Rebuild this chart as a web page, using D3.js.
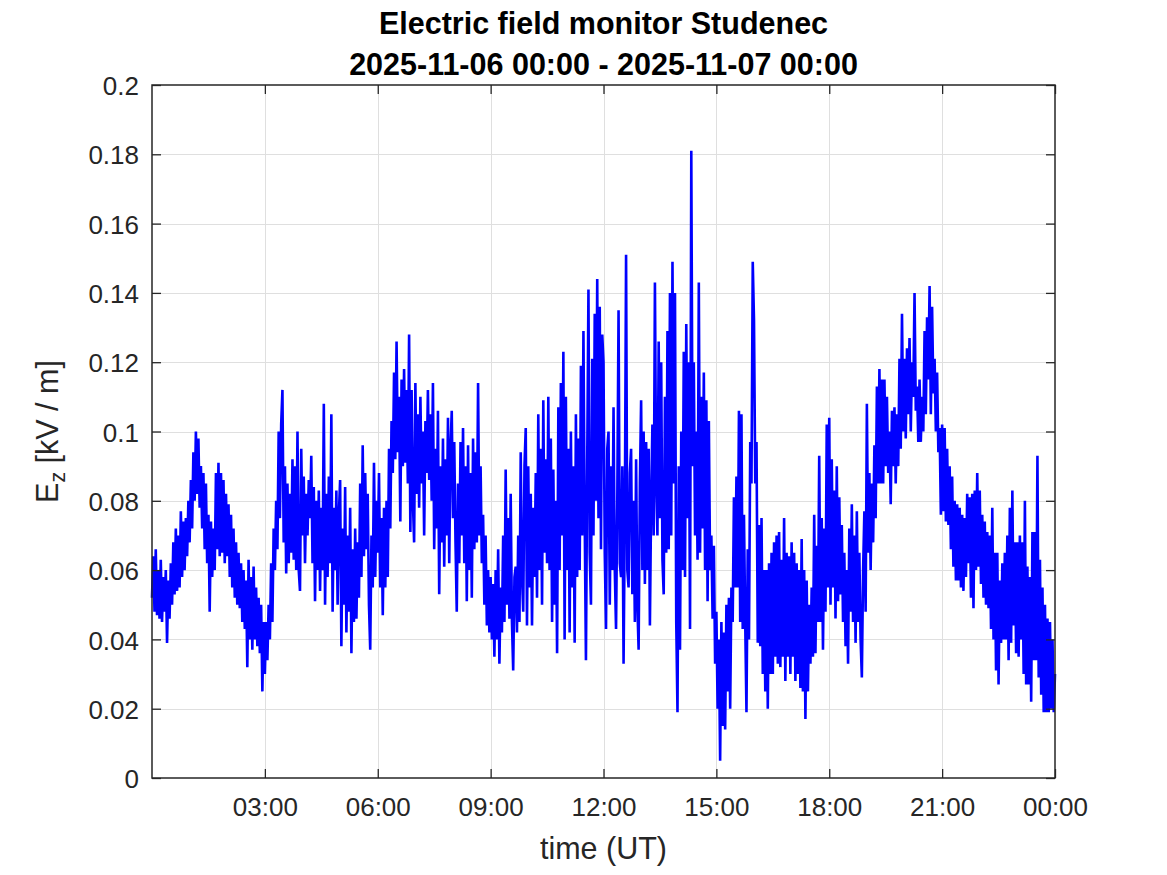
<!DOCTYPE html>
<html>
<head>
<meta charset="utf-8">
<script src="https://cdn.jsdelivr.net/npm/d3@7"></script>
<style>
  html, body { margin: 0; padding: 0; background: #fff; }
  svg { display: block; }
  text { font-family: "Liberation Sans", Arial, Helvetica, sans-serif; }
</style>
</head>
<body>
<svg id="chart" width="1167" height="875"></svg>
<script>
// ---------------- data (kV/m, one sample every 2 minutes, 30 per hour) ----------------
const titleLines = ["Electric field monitor Studenec", "2025-11-06 00:00 - 2025-11-07 00:00"];
const xLabel = "time (UT)";
const xTickLabels = ["03:00", "06:00", "09:00", "12:00", "15:00", "18:00", "21:00", "00:00"];
const yTickValues = [0, 0.02, 0.04, 0.06, 0.08, 0.1, 0.12, 0.14, 0.16, 0.18, 0.2];
const yTickLabels = ["0", "0.02", "0.04", "0.06", "0.08", "0.1", "0.12", "0.14", "0.16", "0.18", "0.2"];

const ez00_06 = [
  0.052, 0.064, 0.048, 0.066, 0.047, 0.060, 0.046, 0.063, 0.045, 0.058, 0.048, 0.060, 0.039, 0.057, 0.046, 0.062, 0.050, 0.068, 0.053, 0.072, 0.054, 0.070, 0.055, 0.077, 0.058, 0.074, 0.060, 0.075, 0.064, 0.080,
  0.068, 0.086, 0.072, 0.094, 0.080, 0.100, 0.082, 0.098, 0.078, 0.090, 0.072, 0.088, 0.066, 0.085, 0.062, 0.076, 0.048, 0.074, 0.058, 0.072, 0.060, 0.088, 0.066, 0.091, 0.064, 0.088, 0.065, 0.086, 0.062, 0.082,
  0.064, 0.079, 0.058, 0.076, 0.055, 0.072, 0.052, 0.068, 0.050, 0.065, 0.049, 0.062, 0.045, 0.060, 0.043, 0.057, 0.032, 0.063, 0.040, 0.058, 0.037, 0.061, 0.040, 0.055, 0.038, 0.052, 0.036, 0.050, 0.025, 0.045,
  0.030, 0.045, 0.034, 0.050, 0.040, 0.062, 0.045, 0.072, 0.060, 0.080, 0.066, 0.100, 0.075, 0.102, 0.112, 0.068, 0.090, 0.059, 0.085, 0.062, 0.082, 0.065, 0.092, 0.063, 0.090, 0.060, 0.100, 0.060, 0.054, 0.095,
  0.070, 0.087, 0.062, 0.082, 0.070, 0.086, 0.075, 0.093, 0.062, 0.084, 0.051, 0.080, 0.060, 0.083, 0.054, 0.078, 0.060, 0.108, 0.050, 0.082, 0.058, 0.087, 0.062, 0.105, 0.048, 0.078, 0.060, 0.083, 0.050, 0.076,
  0.086, 0.038, 0.072, 0.050, 0.084, 0.042, 0.070, 0.048, 0.078, 0.036, 0.066, 0.045, 0.072, 0.046, 0.068, 0.052, 0.085, 0.058, 0.096, 0.064, 0.088, 0.066, 0.082, 0.050, 0.037, 0.070, 0.055, 0.091, 0.058, 0.080
];
const ez06_12 = [
  0.065, 0.088, 0.055, 0.075, 0.047, 0.078, 0.055, 0.080, 0.058, 0.095, 0.072, 0.103, 0.088, 0.117, 0.092, 0.126, 0.094, 0.110, 0.074, 0.115, 0.090, 0.118, 0.091, 0.112, 0.085, 0.128, 0.071, 0.112, 0.080, 0.068,
  0.114, 0.082, 0.105, 0.078, 0.110, 0.085, 0.100, 0.070, 0.103, 0.088, 0.112, 0.086, 0.105, 0.080, 0.114, 0.066, 0.095, 0.072, 0.106, 0.053, 0.090, 0.068, 0.098, 0.061, 0.092, 0.070, 0.104, 0.062, 0.095, 0.106,
  0.075, 0.097, 0.068, 0.048, 0.085, 0.062, 0.097, 0.070, 0.101, 0.062, 0.090, 0.051, 0.096, 0.060, 0.088, 0.052, 0.098, 0.066, 0.094, 0.068, 0.114, 0.070, 0.090, 0.062, 0.076, 0.050, 0.070, 0.044, 0.060, 0.042,
  0.058, 0.040, 0.056, 0.035, 0.060, 0.040, 0.066, 0.033, 0.055, 0.042, 0.070, 0.045, 0.089, 0.050, 0.075, 0.046, 0.082, 0.045, 0.031, 0.058, 0.061, 0.042, 0.070, 0.045, 0.094, 0.058, 0.048, 0.090, 0.101, 0.044,
  0.090, 0.055, 0.082, 0.044, 0.078, 0.058, 0.088, 0.052, 0.105, 0.060, 0.095, 0.050, 0.109, 0.065, 0.092, 0.062, 0.110, 0.060, 0.098, 0.045, 0.089, 0.050, 0.080, 0.036, 0.107, 0.060, 0.114, 0.070, 0.123, 0.040,
  0.110, 0.060, 0.095, 0.042, 0.100, 0.055, 0.090, 0.039, 0.105, 0.058, 0.098, 0.060, 0.119, 0.070, 0.129, 0.075, 0.034, 0.090, 0.141, 0.065, 0.050, 0.121, 0.070, 0.134, 0.080, 0.144, 0.075, 0.136, 0.066, 0.128
];
const ez12_18 = [
  0.120, 0.065, 0.043, 0.095, 0.100, 0.050, 0.090, 0.060, 0.107, 0.060, 0.043, 0.080, 0.135, 0.062, 0.058, 0.090, 0.033, 0.075, 0.151, 0.060, 0.055, 0.088, 0.095, 0.053, 0.080, 0.045, 0.092, 0.050, 0.037, 0.085,
  0.109, 0.060, 0.100, 0.056, 0.097, 0.060, 0.095, 0.044, 0.080, 0.102, 0.070, 0.143, 0.085, 0.070, 0.126, 0.075, 0.120, 0.063, 0.053, 0.110, 0.065, 0.129, 0.066, 0.140, 0.070, 0.149, 0.085, 0.140, 0.045, 0.019,
  0.090, 0.037, 0.100, 0.060, 0.123, 0.058, 0.131, 0.075, 0.120, 0.043, 0.181, 0.090, 0.120, 0.070, 0.100, 0.063, 0.143, 0.065, 0.110, 0.072, 0.117, 0.060, 0.109, 0.051, 0.103, 0.060, 0.070, 0.046, 0.067, 0.033,
  0.048, 0.020, 0.040, 0.005, 0.045, 0.015, 0.042, 0.014, 0.050, 0.025, 0.052, 0.020, 0.055, 0.045, 0.081, 0.055, 0.087, 0.055, 0.106, 0.045, 0.105, 0.043, 0.076, 0.045, 0.019, 0.066, 0.040, 0.097, 0.085, 0.149,
  0.132, 0.085, 0.097, 0.039, 0.073, 0.038, 0.075, 0.030, 0.060, 0.025, 0.060, 0.020, 0.062, 0.030, 0.065, 0.030, 0.068, 0.035, 0.070, 0.033, 0.071, 0.032, 0.063, 0.035, 0.075, 0.028, 0.065, 0.035, 0.064, 0.030,
  0.068, 0.035, 0.065, 0.028, 0.062, 0.030, 0.060, 0.026, 0.069, 0.025, 0.060, 0.017, 0.057, 0.025, 0.050, 0.033, 0.055, 0.035, 0.076, 0.036, 0.067, 0.045, 0.093, 0.045, 0.075, 0.037, 0.072, 0.048, 0.102, 0.055
];
const ez18_24 = [
  0.104, 0.050, 0.092, 0.055, 0.083, 0.046, 0.090, 0.051, 0.081, 0.053, 0.073, 0.045, 0.065, 0.038, 0.060, 0.033, 0.072, 0.048, 0.079, 0.045, 0.070, 0.039, 0.077, 0.045, 0.065, 0.040, 0.029, 0.060, 0.077, 0.048,
  0.108, 0.065, 0.088, 0.060, 0.085, 0.068, 0.096, 0.075, 0.113, 0.085, 0.118, 0.085, 0.115, 0.085, 0.115, 0.090, 0.110, 0.088, 0.100, 0.079, 0.106, 0.090, 0.107, 0.085, 0.105, 0.090, 0.121, 0.095, 0.134, 0.100,
  0.121, 0.098, 0.124, 0.105, 0.127, 0.100, 0.120, 0.110, 0.140, 0.106, 0.113, 0.097, 0.115, 0.097, 0.110, 0.100, 0.129, 0.105, 0.133, 0.115, 0.142, 0.105, 0.136, 0.111, 0.121, 0.100, 0.117, 0.094, 0.101, 0.076,
  0.102, 0.077, 0.101, 0.074, 0.095, 0.073, 0.090, 0.066, 0.087, 0.061, 0.080, 0.057, 0.079, 0.057, 0.078, 0.055, 0.076, 0.054, 0.075, 0.058, 0.082, 0.062, 0.081, 0.052, 0.082, 0.049, 0.083, 0.060, 0.088, 0.061,
  0.083, 0.056, 0.076, 0.052, 0.074, 0.050, 0.071, 0.049, 0.070, 0.043, 0.078, 0.040, 0.065, 0.031, 0.065, 0.027, 0.057, 0.039, 0.062, 0.040, 0.065, 0.040, 0.070, 0.034, 0.078, 0.039, 0.083, 0.044, 0.068, 0.036,
  0.068, 0.035, 0.070, 0.040, 0.068, 0.030, 0.080, 0.027, 0.061, 0.027, 0.058, 0.022, 0.071, 0.034, 0.071, 0.034, 0.093, 0.029, 0.063, 0.024, 0.055, 0.019, 0.050, 0.019, 0.046, 0.019, 0.045, 0.020, 0.040, 0.019
];
const ezEnd = [0.030];

// ---------------- chart ----------------
const W = 1167, H = 875;
const M = { left: 152, right: 1055, top: 85, bottom: 778 };
const AX = "#262626";
const FONT_TICK = 26, FONT_LABEL = 30.5, FONT_TITLE = 30.5;

const t0 = Date.UTC(2025, 10, 6, 0, 0);
const HOUR = 3600 * 1000;
const values = [...ez00_06, ...ez06_12, ...ez12_18, ...ez18_24, ...ezEnd];
const STEP = 24 * HOUR / (values.length - 1);
const data = values.map((v, i) => ({ t: new Date(t0 + i * STEP), v }));

const x = d3.scaleUtc().domain([new Date(t0), new Date(t0 + 24 * HOUR)]).range([M.left, M.right]);
const y = d3.scaleLinear().domain([0, 0.2]).range([M.bottom, M.top]);
const xTicks = xTickLabels.map((_, i) => new Date(t0 + (i + 1) * 3 * HOUR));

const svg = d3.select("#chart");
svg.append("rect").attr("width", W).attr("height", H).attr("fill", "#fff");

// grid
const grid = svg.append("g").attr("stroke", "#dfdfdf").attr("stroke-width", 1);
grid.selectAll("line.gx").data(xTicks.slice(0, -1)).join("line")
  .attr("x1", d => Math.round(x(d)) + 0.5).attr("x2", d => Math.round(x(d)) + 0.5)
  .attr("y1", M.top).attr("y2", M.bottom);
grid.selectAll("line.gy").data(yTickValues.slice(1, -1)).join("line")
  .attr("y1", d => Math.round(y(d)) + 0.5).attr("y2", d => Math.round(y(d)) + 0.5)
  .attr("x1", M.left).attr("x2", M.right);

// data line
const line = d3.line().x(d => x(d.t)).y(d => y(d.v));
svg.append("path").datum(data)
  .attr("d", line)
  .attr("fill", "none")
  .attr("stroke", "#0000ff")
  .attr("stroke-width", 2.6)
  .attr("stroke-linejoin", "miter")
  .attr("stroke-miterlimit", 2);

// axes (inward ticks on all four sides)
function styleAxis(g) {
  g.select(".domain").remove();
  g.selectAll(".tick line").attr("stroke", AX).attr("stroke-width", 1.3);
  g.selectAll(".tick text").attr("fill", AX).attr("font-size", FONT_TICK);
}
const yLabelMap = new Map(yTickValues.map((v, i) => [v, yTickLabels[i]]));
const xLabelMap = new Map(xTicks.map((d, i) => [+d, xTickLabels[i]]));

svg.append("g").attr("transform", `translate(${M.left},0)`)
  .call(d3.axisLeft(y).tickValues(yTickValues).tickSize(-9).tickPadding(13)
    .tickFormat(d => yLabelMap.get(d)))
  .call(styleAxis)
  .call(g => g.selectAll(".tick text").attr("dy", "0.37em"));
svg.append("g").attr("transform", `translate(${M.right},0)`)
  .call(d3.axisRight(y).tickValues(yTickValues).tickSize(-9).tickFormat(""))
  .call(styleAxis);
svg.append("g").attr("transform", `translate(0,${M.bottom})`)
  .call(d3.axisBottom(x).tickValues(xTicks).tickSize(-9).tickPadding(20)
    .tickFormat(d => xLabelMap.get(+d)))
  .call(styleAxis);
svg.append("g").attr("transform", `translate(0,${M.top})`)
  .call(d3.axisTop(x).tickValues(xTicks).tickSize(-9).tickFormat(""))
  .call(styleAxis);

// box
svg.append("rect")
  .attr("x", M.left).attr("y", M.top)
  .attr("width", M.right - M.left).attr("height", M.bottom - M.top)
  .attr("fill", "none").attr("stroke", AX).attr("stroke-width", 1.5);

// title
const cx = (M.left + M.right) / 2;
svg.append("text").attr("x", cx).attr("y", 34).attr("text-anchor", "middle")
  .attr("font-size", FONT_TITLE).attr("font-weight", "bold").attr("fill", "#000")
  .text(titleLines[0]);
svg.append("text").attr("x", cx).attr("y", 75).attr("text-anchor", "middle")
  .attr("font-size", FONT_TITLE).attr("font-weight", "bold").attr("fill", "#000")
  .text(titleLines[1]);

// x label
svg.append("text").attr("x", cx).attr("y", 859).attr("text-anchor", "middle")
  .attr("font-size", FONT_LABEL).attr("fill", AX).text(xLabel);

// y label
const yl = svg.append("text")
  .attr("transform", `translate(58,${(M.top + M.bottom) / 2}) rotate(-90)`)
  .attr("text-anchor", "middle").attr("font-size", FONT_LABEL).attr("fill", AX);
yl.append("tspan").text("E");
yl.append("tspan").attr("font-size", FONT_LABEL * 0.7).attr("dy", 7).text("z");
yl.append("tspan").attr("dy", -7).text(" [kV / m]");
</script>
</body>
</html>
